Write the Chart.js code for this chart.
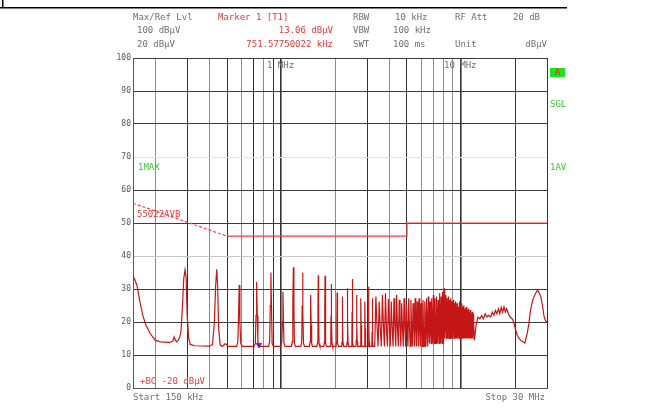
<!DOCTYPE html>
<html><head><meta charset="utf-8">
<script src="https://cdn.jsdelivr.net/npm/chart.js@4.4.0/dist/chart.umd.min.js"></script>
<style>html,body{margin:0;padding:0;background:#fff;}#c{display:block;}</style>
</head><body>
<canvas id="c" width="663" height="411"></canvas>
<script>
// ---- axis ticks ----
const yTicks = [0,10,20,30,40,50,60,70,80,90,100];
const gridFreqs = [0.15,0.2,0.3,0.4,0.5,0.6,0.7,0.8,0.9,1,2,3,4,5,6,7,8,9,10,20,30]; // MHz

// ---- spectrum trace (MHz, dBµV) ----
const lowFreq = [0.150,0.153,0.158,0.164,0.170,0.177,0.187,0.199,0.213,0.240,0.250,0.254,0.258,0.262,0.268,0.272,0.277,0.282,0.287,0.292,0.296,0.300,0.306,0.312,0.330,
 0.400,0.415,0.425,0.432,0.438,0.443,0.449,0.458,0.470,0.488,0.496,0.505,
 0.565,0.574,0.579,0.584,0.589,0.596,0.610,
 0.705,0.718,0.724,0.730,0.736,0.742,0.7516,0.765,
 0.850,0.862,0.869,0.876,0.883,0.890,0.905,
 0.995,1.008,1.015,1.022,1.029,1.036,1.050,
 1.140,1.152,1.160,1.168,1.176,1.184,1.200,
 1.285,1.300,1.307,1.314,1.321,1.330,1.345,
 1.435,1.447,1.453,1.460,1.467,1.476,1.490,
 1.580,1.593,1.600,1.606,1.613,1.622,1.640,
 1.725,1.738,1.745,1.752,1.759,1.768,1.785,
 1.870,1.885,1.891,1.898,1.905,1.915,1.930,
 2.015,2.030,2.037,2.044,2.051,2.060,2.080,
 2.165,2.178,2.184,2.190,2.196,2.205,2.220,
 2.310,2.323,2.330,2.336,2.342,2.352,2.365,
 2.455,2.470,2.476,2.482,2.488,2.498,2.510,
 2.600,2.615,2.622,2.628,2.634,2.645,2.660,
 2.745,2.762,2.768,2.774,2.780,2.790,2.805,
 2.895,2.908,2.914,2.920,2.926,2.936,2.950,
 3.040,3.055,3.060,3.066,3.072,3.083,3.095,
 3.185,3.200,3.206,3.212,3.218,3.228,3.240];
const lowLevel = [34,33,31,26,22,19,16.5,14.5,14,13.8,14.2,15.5,14.5,14,14.6,15.2,17,24,33,35.8,33.5,22,15,13.2,12.8,
 12.7,13.2,20,31,36,31,18,13,12.6,13.4,13.2,12.6,
 12.6,14,22,31.2,20,13.5,12.6,
 12.6,13.5,22,32.2,22,14,13.06,12.6,
 12.6,14,25,35,24,13.5,12.6,
 12.6,14,20,29.2,20,13.5,12.6,
 12.6,14,26,36.6,25,13.5,12.6,
 12.6,14,25,34.9,23,13.5,12.6,
 12.6,14,20,28.2,19,13.5,12.6,
 12.6,14,24,34.2,23,13.5,12.6,
 12.6,14,24,34,22,13.5,12.6,
 12.6,14,22,31.5,21,13.5,12.6,
 12.6,14,20,28.9,19,13.5,12.6,
 12.6,14,19,27.7,19,13.5,12.6,
 12.6,14,21,30.2,20,13.5,12.6,
 12.6,14.5,23,33,22,14,12.6,
 12.6,14.5,19,28.2,19,14,12.6,
 12.6,15,19,27.2,19,14,12.6,
 12.6,15,18,26.2,18,14,12.6,
 12.6,16,21,30.7,20,14,12.6,
 12.6,17,20,27.2,19,14,12.6];

const denseFreq = [
 3.308,3.358,3.403, 3.454,3.504,3.549, 3.600,3.650,3.695, 3.746,3.796,3.841,
 3.892,3.942,3.987, 4.038,4.088,4.133, 4.184,4.234,4.279, 4.330,4.380,4.425,
 4.476,4.526,4.571, 4.622,4.672,4.717, 4.768,4.818,4.863, 4.914,4.964,5.009,
 5.060,5.110,5.155, 5.206,5.256,5.301, 5.352,5.402,5.447, 5.498,5.548,5.593,
 5.644,5.694,5.739, 5.790,5.840,5.885, 5.936,5.986,6.031, 6.082,6.132,6.177,
 6.228,6.278,6.323, 6.374,6.424,6.469, 6.520,6.570,6.615, 6.666,6.716,6.761,
 6.812,6.862,6.907, 6.958,7.008,7.053, 7.104,7.154,7.199, 7.250,7.300,7.345,
 7.396,7.446,7.491, 7.542,7.592,7.637, 7.688,7.738,7.783, 7.834,7.884,7.929,
 7.980,8.030,8.075, 8.126,8.176,8.221, 8.272,8.322,8.367, 8.418,8.468,8.513,
 8.564,8.614,8.659, 8.710,8.760,8.805, 8.856,8.906,8.951, 9.002,9.052,9.097,
 9.148,9.198,9.243, 9.294,9.344,9.389, 9.440,9.490,9.535, 9.586,9.636,9.681,
 9.732,9.782,9.827, 9.878,9.928,9.973, 10.024,10.074,10.119, 10.170,10.220,10.265,
 10.316,10.366,10.411, 10.462,10.512,10.557, 10.608,10.658,10.703, 10.754,10.804,10.849,
 10.900,10.950,10.995, 11.046,11.096,11.141, 11.192,11.242,11.287, 11.338,11.388,11.433,
 11.484,11.534,11.579, 11.630,11.680,11.725];
const denseLevel = [
 12.6,27.7,19.5, 12.6,26.2,18.5, 12.6,28.2,19.5, 12.6,28.7,18.5,
 12.6,27.0,19.5, 12.6,26.2,18.5, 12.6,27.2,19.5, 12.6,28.2,18.5,
 12.6,26.7,19.5, 12.6,25.7,18.5, 12.6,27.2,19.5, 12.6,25.1,18.5,
 12.6,27.2,19.5, 12.6,26.7,18.5, 12.6,25.7,19.5, 12.6,27.2,18.5,
 12.6,26.2,19.5, 12.6,27.2,18.5, 12.6,25.7,19.5, 12.6,26.7,18.5,
 12.6,26.2,19.5, 12.6,27.2,18.5, 12.6,27.7,19.5, 13.5,26.2,18.5,
 13.5,27.2,19.5, 13.5,28.2,18.5, 13.5,27.2,19.5, 13.5,27.7,18.5,
 13.5,26.7,20.5, 13.5,28.7,19.5, 13.5,27.7,20.5, 13.5,29.2,19.5,
 13.5,30.2,20.5, 15,28.2,19.5, 15,27.2,20.5, 15,27.7,19.5,
 15,26.7,20.5, 15,27.2,19.5, 15,26.2,20.5, 15,26.7,19.5,
 15,25.7,20.5, 15,26.2,19.5, 15,25.7,20.5, 15,24.6,19.5,
 15,26.2,20.5, 15,25.1,19.5, 15,25.7,20.5, 15,24.6,19.5,
 15,25.1,20.5, 15,24.1,19.5, 15,24.6,20.5, 15,23.6,19.5,
 15,24.1,20.5, 15,23.1,19.5, 15,23.6,20.5, 15,22.6,19.5,
 15,23.1,20.5, 15,22.6,19.5];

const tailFreq = [11.85,12.10,12.40,12.70,13.00,13.30,13.60,13.90,14.20,14.60,14.90,15.20,15.50,15.80,16.10,16.40,16.70,17.00,17.30,17.60,17.90,18.30,18.70,19.20,19.60,20.00,20.50,21.00,21.40,22.00,22.60,23.30,23.80,24.20,24.60,25.00,25.80,26.60,27.20,27.70,28.30,28.90,29.40,30.00];
const tailLevel = [14.5,19,21.5,21,22,21,22.5,21.5,22,21.5,23,22,23.5,22.5,24,22.5,24.5,23,24.6,23,24,22.5,21.5,21,20,18,16,15,14.5,14,13.6,16.7,19.5,23,25,26.7,28.5,29.7,28.7,27.7,25,21.6,20.5,20];

// ---- limit line (EN 55022 class B average) ----
const limitFreq = [0.15,0.5,5,5,30];
const limitLevel = [56,46,46,50,50];

// ---- marker 1 ----
const markerFreq = [0.75157750022];
const markerLevel = [13.06];

// ---- build datasets ----
const traceFreq = lowFreq.concat(denseFreq, tailFreq);
const traceLevel = lowLevel.concat(denseLevel, tailLevel);
const trace = traceFreq.map((f,i)=>({x:f,y:traceLevel[i]}));
const limit = limitFreq.map((f,i)=>({x:f,y:limitLevel[i]}));
const marker = markerFreq.map((f,i)=>({x:f,y:markerLevel[i]}));

const MONO = '"DejaVu Sans Mono", "Liberation Mono", monospace';
const textPlugin = {
  id:'analyzerText',
  afterDraw(chart){
    const g = chart.ctx;
    g.save();
    g.fillStyle = '#000';
    g.fillRect(0,7,567,1.5);
    g.fillRect(2,0,1.5,7);
    g.font = '9px ' + MONO;
    g.textBaseline = 'middle';
    const T = (s,x,y,c,al)=>{ g.fillStyle=c; g.textAlign=al||'left'; g.fillText(s,x,y); };
    const gray='#707070', red='#e23a3a', green='#33cc33';
    T('Max/Ref Lvl',133,18,gray);
    T('Marker 1 [T1]',218,18,red);
    T('RBW',353,18,gray); T('10 kHz',395,18,gray);
    T('RF Att',455,18,gray); T('20 dB',540,18,gray,'right');
    T('100 dBµV',137,31,gray);
    T('13.06 dBµV',333,31,red,'right');
    T('VBW',353,31,gray); T('100 kHz',393,31,gray);
    T('20 dBµV',137,45,gray);
    T('751.57750022 kHz',333,45,red,'right');
    T('SWT',353,45,gray); T('100 ms',393,45,gray);
    T('Unit',455,45,gray); T('dBµV',547,45,gray,'right');
    T('1 MHz',267,66,gray);
    T('10 MHz',444,66,gray);
    T('1MAX',138,168,green);
    T('55022AVB',137,215,red);
    T('+BC -20 dBµV',140,382,red);
    T('Start 150 kHz',133,398,gray);
    T('Stop 30 MHz',545,398,gray,'right');
    g.fillStyle='#22e022'; g.fillRect(550,68,15,9);
    T('A',557.5,72.5,'#c04000','center');
    T('SGL',550,105,green);
    T('1AV',550,168,green);
    g.restore();
  }
};

const darkV = [0.15,0.3,0.5,0.7,0.9,1,3,5,10,20,30];
new Chart(document.getElementById('c'), {
  type:'line',
  data:{datasets:[
    {data:trace, borderColor:'#c41616', borderWidth:1.2, pointRadius:0, tension:0},
    {data:limit, borderColor:'#ff3c3c', borderWidth:1.2, pointRadius:0, tension:0,
      segment:{borderDash: c => c.p0DataIndex===0 ? [3,2] : undefined}},
    {data:marker, showLine:false, pointStyle:'triangle', rotation:180, pointRadius:3,
      backgroundColor:'#2a3cff', borderColor:'#2a3cff'}
  ]},
  options:{
    responsive:false, animation:false, devicePixelRatio:1,
    layout:{padding:{top:58,right:116,left:0,bottom:0}},
    plugins:{legend:{display:false}, tooltip:{enabled:false}},
    scales:{
      x:{type:'logarithmic', min:0.15, max:30,
        afterBuildTicks: s => { s.ticks = gridFreqs.map(v=>({value:v})); },
        afterFit: s => { s.height = 23; },
        ticks:{display:false},
        grid:{drawTicks:false,
          color: c => darkV.some(v=>Math.abs(v-(c.tick?c.tick.value:0))<1e-9) ? '#333' : '#8c8c8c',
          lineWidth: c => (c.tick && (c.tick.value===1 || c.tick.value===10)) ? 1.6 : 1},
        border:{color:'#555'}
      },
      y:{type:'linear', min:0, max:100,
        afterBuildTicks: s => { s.ticks = yTicks.map(v=>({value:v})); },
        afterFit: s => { s.width = 133; },
        ticks:{font:{family:MONO,size:8}, color:'#555', padding:2},
        grid:{drawTicks:false,
          color: c => { const v=c.tick?c.tick.value:0; return v===40 ? '#c8c8c8' : v===70 ? '#e4e4e4' : '#3a3a3a'; }},
        border:{color:'#555'}
      }
    }
  },
  plugins:[textPlugin]
});
</script>
</body></html>
